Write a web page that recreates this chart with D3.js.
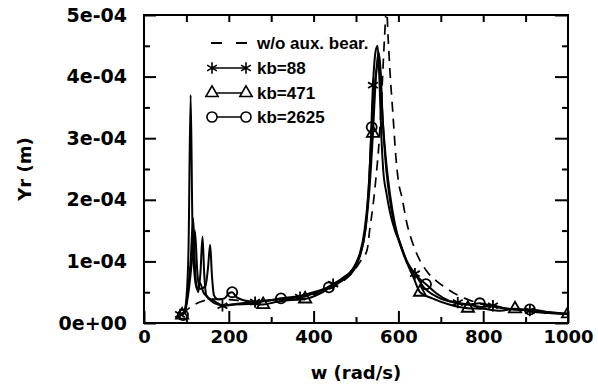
<!DOCTYPE html>
<html>
<head>
<meta charset="utf-8">
<script src="https://cdn.jsdelivr.net/npm/d3@7"></script>
<style>
  body { margin: 0; background: #fff; }
  text { font-family: "DejaVu Sans", sans-serif; font-weight: bold; fill: #000; }
  .leg { font-family: "Liberation Sans", Arial, sans-serif; }
</style>
</head>
<body>
<div id="chart"></div>
<script>
// values, y in units of 1e-5 m
const wNo = [90,110,140,170,200,250,300,350,400,440,470,495,512,526,533,540,547,555,562,567,572,576,580,587,594,600,608,620,640,667,690,710,735,757,800,850,900,950,1000];
const yNo = [1.4,2.6,3.6,3.9,3.8,3.5,3.7,4.0,4.6,5.6,6.8,8.5,10.2,11.8,15.5,19,23.5,30,39,46,51,46,41,34,27,23,20.5,16.2,11.8,8.4,6.8,5.8,4.7,4.0,3.0,2.4,2.0,1.7,1.5];

const w88 = [85,95,100,105,110,114,119,125,132,140,150,165,185,205,230,262,300,330,368,400,425,446,470,493,505,517,525,533,540,546,551,555,560,564,572,580,592,604,620,639,660,690,715,740,770,800,823,850,880,910,950,1000];
const y88 = [1.4,1.8,4,12,37,17,8,5.5,6.5,5,4.2,3.6,2.8,3.0,3.2,3.4,3.7,3.9,4.2,4.8,5.5,6.3,7.4,8.8,10.5,13,17,26,38.6,44,45,40,30,25,21,18,15,13,10,8,5.8,4.3,3.6,3.3,2.9,2.6,2.8,2.4,2.2,2.0,1.8,1.5];
const mark88 = [85,185,262,368,446,540,639,740,823,910];

const w471 = [90,97,103,110,116,121,128,133,138,142,147,160,175,190,215,250,281,310,340,380,410,440,470,495,510,522,532,540,547,553,558,563,570,578,590,605,620,635,651,680,720,764,800,840,875,920,960,1000];
const y471 = [1.3,2.2,5,10,17,8,5,8,14,8,4.5,3.5,3.0,2.8,3.0,3.1,3.0,3.4,3.7,3.9,4.6,5.8,7.0,8.6,11,15,22,30.8,40,44,41,33,26,21,16,12.5,9.8,7.5,5.0,4.0,3.0,2.4,2.3,2.0,2.3,1.8,1.6,1.5];
const mark471 = [90,281,380,540,651,764,875,1000];

const w2625 = [92,98,105,113,120,126,132,145,151,156,160,165,175,190,200,208,218,235,260,290,323,360,400,436,465,490,508,520,530,537,545,551,557,563,570,580,592,606,620,638,665,690,720,760,792,830,870,910,950,1000];
const y2625 = [1.3,2.2,5,10,15,8,5.5,6,9,12.7,8,4.5,3.8,4.0,4.8,5.0,4.2,3.7,3.4,3.6,4.0,4.3,5.0,5.8,7.0,8.5,11,15,22,31.8,39,42,40,33,27,21,16,12.5,10,8,6.3,4.8,3.6,3.0,3.2,2.6,2.2,2.2,1.8,1.4];
const mark2625 = [92,208,323,436,537,665,792,910];

const legendLabels = ["w/o aux. bear.", "kb=88", "kb=471", "kb=2625"];
const xTicks = [0, 200, 400, 600, 800, 1000];
const yTicks = [0, 1e-4, 2e-4, 3e-4, 4e-4, 5e-4];
const yTickLabels = ["0e+00", "1e-04", "2e-04", "3e-04", "4e-04", "5e-04"];

const W = 598, H = 385;
const margin = { top: 15, right: 30, bottom: 62, left: 144 };

const svg = d3.select("#chart").append("svg")
    .attr("width", W)
    .attr("height", H);

const x = d3.scaleLinear().domain([0, 1000]).range([margin.left, W - margin.right]);
const y = d3.scaleLinear().domain([0, 5e-4]).range([H - margin.bottom, margin.top]);

svg.append("clipPath").attr("id", "clip")
  .append("rect")
    .attr("x", margin.left).attr("y", margin.top)
    .attr("width", x(1000) - x(0)).attr("height", y(0) - y(5e-4));

const toPts = (ws, ys) => ws.map((w, i) => [w, ys[i] * 1e-5]);

const line = d3.line()
    .x(d => x(d[0]))
    .y(d => y(d[1]))
    .curve(d3.curveMonotoneX);

const plot = svg.append("g").attr("clip-path", "url(#clip)");

// dashed curve, no aux bearing
plot.append("path")
    .datum(toPts(wNo, yNo))
    .attr("d", line)
    .attr("fill", "none")
    .attr("stroke", "#000")
    .attr("stroke-width", 1.7)
    .attr("stroke-dasharray", "10,7");

const series = [
  { pts: toPts(w88, y88), marks: mark88, sym: d3.symbolAsterisk, size: 90 },
  { pts: toPts(w471, y471), marks: mark471, sym: d3.symbolTriangle, size: 65 },
  { pts: toPts(w2625, y2625), marks: mark2625, sym: d3.symbolCircle, size: 80 }
];

series.forEach(s => {
  plot.append("path")
      .datum(s.pts)
      .attr("d", line)
      .attr("fill", "none")
      .attr("stroke", "#000")
      .attr("stroke-width", 2);

  plot.selectAll(null)
    .data(s.pts.filter(d => s.marks.includes(d[0])))
    .join("path")
      .attr("transform", d => "translate(" + x(d[0]) + "," + y(d[1]) + ")")
      .attr("d", d3.symbol().type(s.sym).size(s.size))
      .attr("fill", "none")
      .attr("stroke", "#000")
      .attr("stroke-width", 1.8);
});

// axes: ticks inward on all four sides
const axisStyle = g => {
  g.select(".domain").remove();
  g.selectAll("line").attr("stroke", "#000").attr("stroke-width", 2);
};

svg.append("g")
    .attr("transform", "translate(0," + y(0) + ")")
    .call(d3.axisBottom(x).tickValues(xTicks).tickFormat(d3.format("d")).tickSizeInner(-12).tickSizeOuter(0))
    .call(axisStyle)
    .selectAll("text").style("font-size", "18px").attr("y", 20).attr("dy", 0);

svg.append("g")
    .attr("transform", "translate(0," + y(0) + ")")
    .call(d3.axisBottom(x).tickValues(d3.range(100, 1000, 200)).tickSize(-6).tickFormat(""))
    .call(axisStyle);

svg.append("g")
    .attr("transform", "translate(0," + y(5e-4) + ")")
    .call(d3.axisTop(x).tickValues(d3.range(100, 1000, 100)).tickSize(-7).tickFormat(""))
    .call(axisStyle);

svg.append("g")
    .attr("transform", "translate(" + x(0) + ",0)")
    .call(d3.axisLeft(y).tickValues(yTicks).tickSizeInner(-12).tickSizeOuter(0).tickPadding(17)
        .tickFormat((d, i) => yTickLabels[i]))
    .call(axisStyle)
    .selectAll("text").style("font-size", "19px");

svg.append("g")
    .attr("transform", "translate(" + x(0) + ",0)")
    .call(d3.axisLeft(y).tickValues(d3.range(0.5e-4, 5e-4, 1e-4)).tickSize(-6).tickFormat(""))
    .call(axisStyle);

svg.append("g")
    .attr("transform", "translate(" + x(1000) + ",0)")
    .call(d3.axisRight(y).tickValues(yTicks).tickSize(-13).tickFormat(""))
    .call(axisStyle);

svg.append("g")
    .attr("transform", "translate(" + x(1000) + ",0)")
    .call(d3.axisRight(y).tickValues(d3.range(0.5e-4, 5e-4, 1e-4)).tickSize(-6).tickFormat(""))
    .call(axisStyle);

// frame
svg.append("rect")
    .attr("x", x(0)).attr("y", y(5e-4))
    .attr("width", x(1000) - x(0)).attr("height", y(0) - y(5e-4))
    .attr("fill", "none")
    .attr("stroke", "#000")
    .attr("stroke-width", 2);

// axis titles
svg.append("text")
    .attr("x", (x(0) + x(1000)) / 2)
    .attr("y", 379)
    .attr("text-anchor", "middle")
    .style("font-size", "18px")
    .text("w (rad/s)");

svg.append("text")
    .attr("transform", "translate(31," + ((y(0) + y(5e-4)) / 2) + ") rotate(-90)")
    .attr("text-anchor", "middle")
    .style("font-size", "18px")
    .text("Yr (m)");

// legend
const lg = svg.append("g");
const rowY = [43, 68, 93, 117];
const legSyms = [null, d3.symbolAsterisk, d3.symbolTriangle, d3.symbolCircle];
const legSize = [0, 90, 65, 80];

rowY.forEach((ry, i) => {
  lg.append("line")
      .attr("x1", 211).attr("x2", 247)
      .attr("y1", ry).attr("y2", ry)
      .attr("stroke", "#000")
      .attr("stroke-width", i === 0 ? 1.8 : 1.4)
      .attr("stroke-dasharray", i === 0 ? "11,14" : null);
  if (legSyms[i]) {
    [212, 246].forEach(mx => {
      lg.append("path")
          .attr("transform", "translate(" + mx + "," + ry + ")")
          .attr("d", d3.symbol().type(legSyms[i]).size(legSize[i]))
          .attr("fill", "#fff")
          .attr("stroke", "#000")
          .attr("stroke-width", 1.6);
    });
  }
  lg.append("text")
      .attr("class", "leg")
      .attr("x", 257)
      .attr("y", ry + 6)
      .style("font-size", "17px")
      .text(legendLabels[i]);
});
</script>
</body>
</html>
